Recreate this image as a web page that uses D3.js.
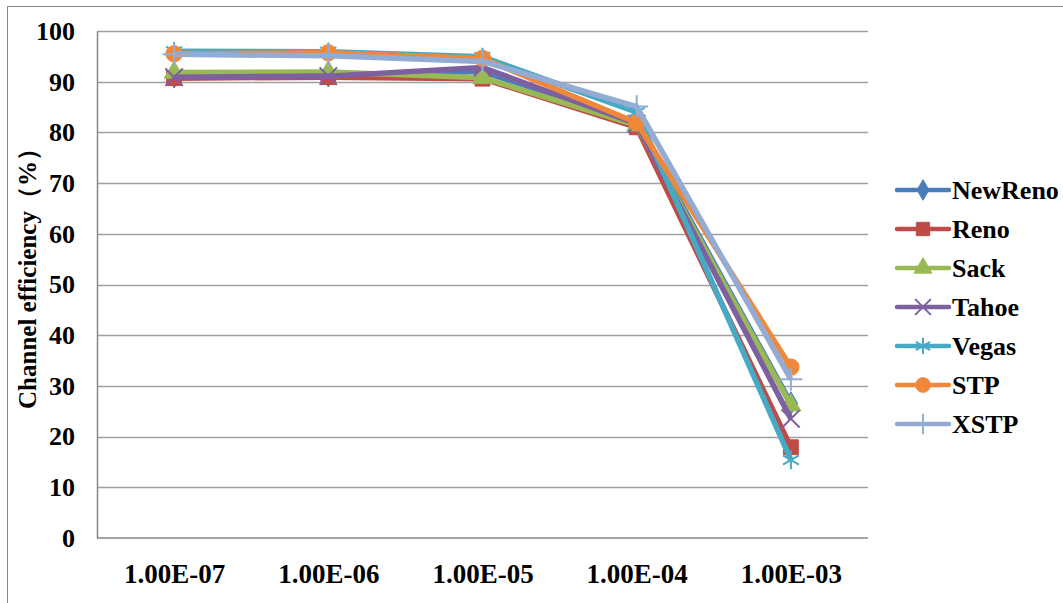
<!DOCTYPE html>
<html>
<head>
<meta charset="utf-8">
<script src="https://cdn.jsdelivr.net/npm/d3@7"></script>
<style>
  html, body { margin: 0; padding: 0; background: #fff; }
  svg { display: block; }
  text { font-family: "Liberation Serif", "Times New Roman", serif; font-weight: bold; fill: #000; }
</style>
</head>
<body>
<svg id="chart" width="1063" height="603"></svg>
<script>
// ---- data ----
const categories = ["1.00E-07", "1.00E-06", "1.00E-05", "1.00E-04", "1.00E-03"];
const seriesNames = ["NewReno", "Reno", "Sack", "Tahoe", "Vegas", "STP", "XSTP"];
const newReno = [91.0, 91.2, 92.0, 82.0, 26.6];
const reno    = [90.7, 90.9, 90.6, 81.0, 17.9];
const sack    = [91.8, 91.9, 90.8, 81.4, 26.2];
const tahoe   = [90.9, 91.1, 92.8, 81.7, 23.5];
const vegas   = [96.0, 95.9, 94.9, 84.0, 15.4];
const stp     = [95.5, 95.7, 94.6, 81.9, 33.7];
const xstp    = [95.4, 95.1, 94.0, 85.1, 31.3];
const yTicks  = [0, 10, 20, 30, 40, 50, 60, 70, 80, 90, 100];

const seriesValues = [newReno, reno, sack, tahoe, vegas, stp, xstp];
const colors  = ["#4A7EBB", "#BE4B48", "#98B954", "#7D60A0", "#46AAC5", "#F0883C", "#93ACD4"];
const markers = ["diamond", "square", "triangle", "times", "asterisk", "circle", "plus"];

// ---- layout ----
const svg = d3.select("#chart");
const pLeft = 97, pRight = 868, pTop = 31, pBottom = 538;
const FONT = '"Liberation Serif", "Times New Roman", serif';

const x = d3.scalePoint().domain(categories).range([pLeft, pRight]).padding(0.5);
const y = d3.scaleLinear().domain([0, 100]).range([pBottom, pTop]);

// outer frame
svg.append("rect")
  .attr("x", 7.5).attr("y", 6.5).attr("width", 1063).attr("height", 603)
  .attr("fill", "none").attr("stroke", "#868686").attr("stroke-width", 1);

// gridlines
svg.append("g").selectAll("line").data(yTicks.filter(d => d > 0)).join("line")
  .attr("x1", pLeft).attr("x2", pRight)
  .attr("y1", d => Math.round(y(d)) + 0.5).attr("y2", d => Math.round(y(d)) + 0.5)
  .attr("stroke", "#A0A0A0").attr("stroke-width", 1.5);

// y axis
const yAxis = d3.axisLeft(y).tickValues(yTicks).tickSize(0).tickPadding(22);
const gy = svg.append("g").attr("transform", `translate(${pLeft},0)`).call(yAxis);
gy.attr("font-family", null).attr("font-size", null);
gy.select(".domain").attr("stroke", "#868686").attr("stroke-width", 1.5);
gy.selectAll("text").style("font-size", "26px").style("font-family", FONT).style("font-weight", "bold").attr("fill", "#000");

// x axis
const xAxis = d3.axisBottom(x).tickSize(0).tickPadding(26);
const gx = svg.append("g").attr("transform", `translate(0,${pBottom})`).call(xAxis);
gx.attr("font-family", null).attr("font-size", null);
gx.select(".domain").attr("stroke", "#868686").attr("stroke-width", 1.5).attr("d", `M${pLeft},0H${pRight}`);
gx.selectAll("text").style("font-size", "27px").style("font-family", FONT).style("font-weight", "bold").attr("fill", "#000");

// y title
svg.append("text")
  .attr("transform", `translate(36,${(pTop + pBottom) / 2 - 12}) rotate(-90)`)
  .attr("text-anchor", "middle")
  .style("font-size", "25px")
  .style("font-family", FONT)
  .text("Channel efficiency（%）");

// marker drawing
function drawMarker(g, type, color, cx, cy, scale) {
  const s = scale || 1;
  const sym = {
    diamond: d3.symbolDiamond, square: d3.symbolSquare, triangle: d3.symbolTriangle,
    circle: d3.symbolCircle, times: d3.symbolTimes, asterisk: d3.symbolAsterisk, plus: d3.symbolPlus
  }[type];
  const sizes = { diamond: 150, square: 220, triangle: 170, circle: 210, times: 200, asterisk: 240, plus: 170 };
  const filled = ["diamond", "square", "triangle", "circle"].includes(type);
  const p = g.append("path")
    .attr("transform", `translate(${cx},${cy})`)
    .attr("d", d3.symbol().type(sym).size(sizes[type] * s * s)());
  if (filled) p.attr("fill", color).attr("stroke", color).attr("stroke-width", 1);
  else p.attr("fill", "none").attr("stroke", color).attr("stroke-width", 2);
}

// series
const line = d3.line().x((d, i) => x(categories[i])).y(d => y(d));
const plot = svg.append("g");
seriesValues.forEach((vals, si) => {
  const g = plot.append("g");
  g.append("path").datum(vals)
    .attr("d", line)
    .attr("fill", "none")
    .attr("stroke", colors[si])
    .attr("stroke-width", 5.5)
    .attr("stroke-linejoin", "round");
  vals.forEach((v, i) => drawMarker(g, markers[si], colors[si], x(categories[i]), y(v), 1));
});

// legend
const legY0 = 190, legStep = 39, legX1 = 897, legX2 = 949;
const leg = svg.append("g");
seriesNames.forEach((name, si) => {
  const yy = legY0 + si * legStep;
  leg.append("line").attr("x1", legX1).attr("x2", legX2).attr("y1", yy).attr("y2", yy)
    .attr("stroke", colors[si]).attr("stroke-width", 4.5).attr("stroke-linecap", "round");
  drawMarker(leg, markers[si], colors[si], (legX1 + legX2) / 2, yy, 0.9);
  leg.append("text").attr("x", legX2 + 3).attr("y", yy + 9)
    .style("font-size", "26px").style("font-family", FONT).text(name);
});
</script>
</body>
</html>
